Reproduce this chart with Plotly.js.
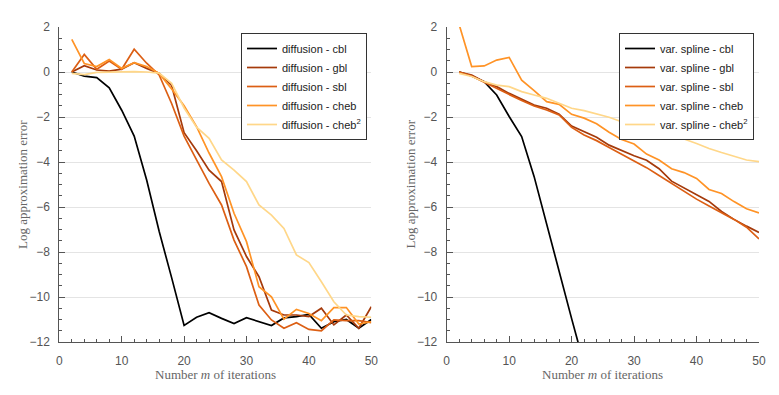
<!DOCTYPE html>
<html>
<head>
<meta charset="utf-8">
<script src="https://cdn.plot.ly/plotly-3.0.1.min.js"></script>
<style>html,body{margin:0;padding:0;background:#fff;}#chart{width:779px;height:395px;}</style>
</head>
<body>
<div id="chart"></div>
<script>
// iterations m
const iterations = [2,4,6,8,10,12,14,16,18,20,22,24,26,28,30,32,34,36,38,40,42,44,46,48,50];

// Left panel: diffusion
const diffusion_cbl   = [0, -0.18, -0.25, -0.7, -1.7, -2.85, -4.8, -7.08, -9.14, -11.26, -10.9, -10.7, -10.95, -11.18, -10.92, -11.08, -11.27, -10.93, -10.87, -10.77, -11.39, -11.1, -11.0, -11.39, -11.0];
const diffusion_gbl   = [0, 0.28, 0.09, 0.04, 0.13, 0.41, 0.16, -0.06, -0.6, -2.7, -3.5, -4.36, -4.87, -7.02, -8.2, -9.1, -10.58, -10.8, -10.8, -10.87, -10.5, -11.24, -10.8, -11.39, -10.43];
const diffusion_sbl   = [0, 0.78, 0.12, 0.49, 0.12, 1.01, 0.39, -0.13, -1.4, -2.85, -3.91, -4.95, -5.91, -7.47, -8.65, -10.36, -11.02, -11.39, -11.14, -11.44, -11.5, -11.02, -11.05, -11.05, -11.14];
const diffusion_cheb  = [1.45, 0.38, 0.24, 0.56, 0.16, 0.41, 0.24, -0.06, -0.75, -1.5, -2.43, -3.6, -4.65, -6.28, -7.54, -9.54, -9.99, -10.99, -10.55, -10.73, -11.05, -10.47, -10.47, -11.2, -11.1];
const diffusion_cheb2 = [-0.06, -0.12, -0.02, 0.0, 0.0, 0.02, 0.0, -0.05, -0.5, -1.6, -2.45, -2.95, -3.91, -4.36, -4.87, -5.91, -6.36, -6.95, -8.13, -8.47, -9.32, -10.21, -10.8, -10.87, -10.9];

// Right panel: variable spline
const spline_cbl   = [0, -0.18, -0.43, -1.02, -1.98, -2.87, -4.65, -6.77, -8.9, -10.96, -13.0];
const spline_gbl   = [0, -0.13, -0.43, -0.65, -0.95, -1.21, -1.47, -1.61, -1.88, -2.4, -2.65, -2.9, -3.25, -3.5, -3.72, -3.92, -4.3, -4.85, -5.15, -5.45, -5.75, -6.2, -6.55, -6.85, -7.13];
const spline_sbl   = [0, -0.18, -0.46, -0.73, -1.02, -1.27, -1.51, -1.69, -1.91, -2.46, -2.8, -3.05, -3.35, -3.65, -3.95, -4.25, -4.6, -4.95, -5.3, -5.65, -5.95, -6.25, -6.55, -6.9, -7.42];
const spline_cheb  = [2.1, 0.24, 0.27, 0.53, 0.65, -0.36, -0.83, -1.32, -1.44, -1.88, -2.05, -2.3, -2.68, -3.0, -3.2, -3.65, -3.91, -4.3, -4.47, -4.73, -5.22, -5.4, -5.76, -6.08, -6.26];
const spline_cheb2 = [-0.06, -0.2, -0.43, -0.58, -0.65, -0.87, -1.02, -1.17, -1.39, -1.61, -1.72, -1.88, -2.01, -2.21, -2.38, -2.48, -2.8, -2.9, -2.98, -3.18, -3.4, -3.58, -3.76, -3.91, -3.98];

const methodLabels = ['cbl', 'gbl', 'sbl', 'cheb', 'cheb<sup>2</sup>'];
const colors = ['#000000', '#a53a0b', '#dc5f14', '#ff9326', '#ffd789'];

const leftSeries  = [diffusion_cbl, diffusion_gbl, diffusion_sbl, diffusion_cheb, diffusion_cheb2];
const rightSeries = [spline_cbl, spline_gbl, spline_sbl, spline_cheb, spline_cheb2];

const traces = [];
leftSeries.forEach((ys, i) => {
  traces.push({
    x: iterations.slice(0, ys.length), y: ys, type: 'scatter', mode: 'lines',
    name: 'diffusion - ' + methodLabels[i],
    line: {color: colors[i], width: 1.7},
    xaxis: 'x', yaxis: 'y', legend: 'legend'
  });
});
rightSeries.forEach((ys, i) => {
  traces.push({
    x: iterations.slice(0, ys.length), y: ys, type: 'scatter', mode: 'lines',
    name: 'var. spline - ' + methodLabels[i],
    line: {color: colors[i], width: 1.7},
    xaxis: 'x2', yaxis: 'y2', legend: 'legend2'
  });
});

const W = 779, H = 395;
const tickFont = {family: 'Liberation Sans, Arial, sans-serif', size: 12, color: '#555'};
const axisColor = '#555';

function xAxis(domain, anchor) {
  return {
    domain: domain, anchor: anchor, range: [0, 50], tick0: 0, dtick: 10,
    ticks: 'inside', ticklen: 6, tickcolor: axisColor, tickwidth: 1,
    minor: {dtick: 2, ticks: 'inside', ticklen: 3, tickcolor: axisColor, showgrid: false},
    showline: true, linecolor: axisColor, linewidth: 1,
    showgrid: false, zeroline: false, tickfont: tickFont, ticklabelstandoff: 8
  };
}
function yAxis(anchor) {
  return {
    domain: [(H - 342) / H, (H - 27) / H], anchor: anchor, range: [-12, 2], tick0: 0, dtick: 2,
    ticks: 'inside', ticklen: 6, tickcolor: axisColor, tickwidth: 1,
    minor: {dtick: 0.5, ticks: 'inside', ticklen: 3, tickcolor: axisColor, showgrid: false},
    showline: true, linecolor: axisColor, linewidth: 1,
    showgrid: true, gridcolor: '#e4e4e4', gridwidth: 1, zeroline: false,
    tickfont: tickFont, ticklabelstandoff: 6
  };
}
const titleFont = {family: 'Liberation Serif, Times New Roman, serif', size: 13, color: '#666'};
const legendBase = {
  xanchor: 'right', yanchor: 'top', y: (H - 33) / H,
  bgcolor: '#ffffff', bordercolor: '#333', borderwidth: 1,
  font: {family: 'Liberation Sans, Arial, sans-serif', size: 11, color: '#222'},
  itemwidth: 30, tracegroupgap: 0
};

const layout = {
  width: W, height: H,
  margin: {l: 0, r: 0, t: 0, b: 0},
  paper_bgcolor: '#fff', plot_bgcolor: '#fff',
  showlegend: true,
  xaxis: xAxis([59.3 / W, 371.3 / W], 'y'),
  yaxis: yAxis('x'),
  xaxis2: xAxis([446.7 / W, 759 / W], 'y2'),
  yaxis2: yAxis('x2'),
  legend: Object.assign({}, legendBase, {x: 367 / W}),
  legend2: Object.assign({}, legendBase, {x: 754 / W}),
  annotations: [
    {text: 'Log approximation error', xref: 'paper', yref: 'paper', x: 22.5 / W, y: (H - 184.5) / H,
     textangle: -90, showarrow: false, xanchor: 'center', yanchor: 'middle', font: titleFont},
    {text: 'Log approximation error', xref: 'paper', yref: 'paper', x: 410 / W, y: (H - 184.5) / H,
     textangle: -90, showarrow: false, xanchor: 'center', yanchor: 'middle', font: titleFont},
    {text: 'Number <i>m</i> of iterations', xref: 'paper', yref: 'paper', x: 215.3 / W, y: (H - 374) / H,
     showarrow: false, xanchor: 'center', yanchor: 'middle', font: titleFont},
    {text: 'Number <i>m</i> of iterations', xref: 'paper', yref: 'paper', x: 602.9 / W, y: (H - 374) / H,
     showarrow: false, xanchor: 'center', yanchor: 'middle', font: titleFont}
  ]
};

Plotly.newPlot('chart', traces, layout, {staticPlot: true, displayModeBar: false});
</script>
</body>
</html>
